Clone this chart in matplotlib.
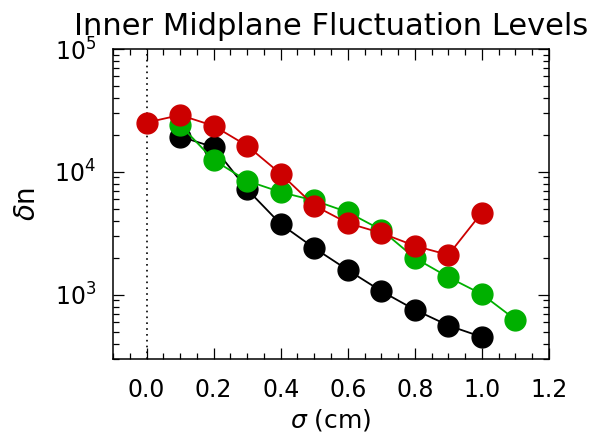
import matplotlib
matplotlib.use("Agg")
import matplotlib.pyplot as plt
from matplotlib.ticker import MultipleLocator, LogLocator, NullFormatter

plt.rcParams['font.family'] = ['DejaVu Sans']
plt.rcParams['mathtext.fontset'] = 'dejavusans'

title = "Inner Midplane Fluctuation Levels"
xlabel = r"$\sigma$ (cm)"
ylabel = r"$\delta$n"

black_x = [0.1, 0.2, 0.3, 0.4, 0.5, 0.6, 0.7, 0.8, 0.9, 1.0]
black_y = [19400, 15900, 7200, 3760, 2400, 1590, 1070, 755, 562, 453]

green_x = [0.1, 0.2, 0.3, 0.4, 0.5, 0.6, 0.7, 0.8, 0.9, 1.0, 1.1]
green_y = [24100, 12500, 8450, 6840, 5850, 4700, 3370, 1990, 1390, 1010, 627]

red_x = [0.0, 0.1, 0.2, 0.3, 0.4, 0.5, 0.6, 0.7, 0.8, 0.9, 1.0]
red_y = [25200, 29000, 23700, 16300, 9640, 5320, 3830, 3180, 2500, 2110, 4670]

fig = plt.figure(figsize=(6.16, 4.38), dpi=100)
ax = fig.add_axes([113/616, 1-359/438, (549-113)/616, (359-49)/438])

ax.axvline(0.0, color='black', linestyle=(0, (1, 2.5)), lw=1.2, zorder=1)

ms = 15
lw = 1.3
ax.plot(black_x, black_y, color='black', lw=lw, marker='o', ms=ms, zorder=3)
ax.plot(green_x, green_y, color='#00b000', lw=lw, marker='o', ms=ms, zorder=4)
ax.plot(red_x, red_y, color='#cc0000', lw=lw, marker='o', ms=ms, zorder=5)

ax.set_yscale('log')
ax.set_xlim(-0.1, 1.2)
ax.set_ylim(300, 1e5)
ax.xaxis.set_major_locator(MultipleLocator(0.2))
ax.xaxis.set_minor_locator(MultipleLocator(0.05))
ax.yaxis.set_major_locator(LogLocator(base=10, numticks=10))
ax.yaxis.set_minor_locator(LogLocator(base=10, subs=range(2, 10), numticks=20))
ax.yaxis.set_minor_formatter(NullFormatter())
ax.xaxis.set_major_formatter(matplotlib.ticker.FormatStrFormatter('%.1f'))

ax.tick_params(which='both', direction='in', top=True, right=True, width=0.9)
ax.tick_params(which='major', length=8, labelsize=17)
ax.tick_params(axis='x', which='major', pad=14)
ax.tick_params(axis='y', which='major', pad=12)
ax.tick_params(which='minor', length=4)
for s in ax.spines.values():
    s.set_linewidth(1.1)

ax.set_title(title, fontsize=22, pad=10)
ax.set_xlabel(xlabel, fontsize=18, labelpad=3)
ax.set_ylabel(ylabel, fontsize=20, labelpad=10)

fig.savefig("out.png", dpi=100)
